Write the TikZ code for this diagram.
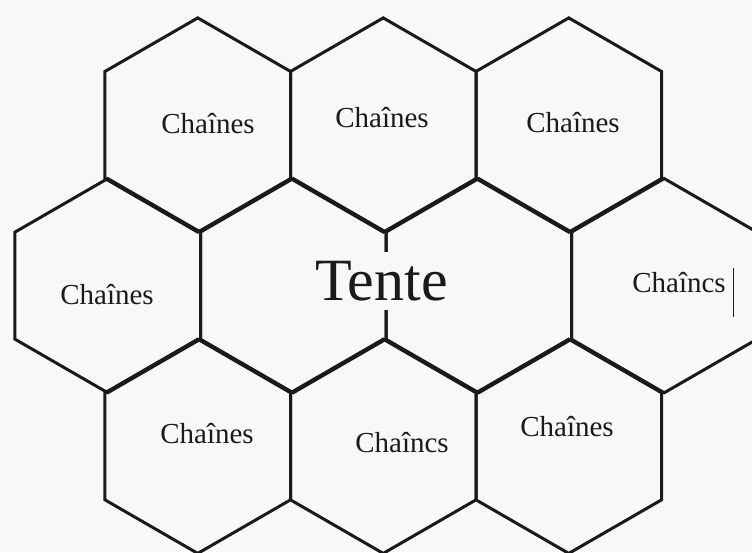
\documentclass[tikz,border=0pt]{standalone}
\usepackage{fontspec}
\setmainfont{Liberation Serif}
\usetikzlibrary{shapes.geometric}
\definecolor{paper}{HTML}{F8F8F6}
\definecolor{ink}{HTML}{1A1A1A}
\begin{document}
\begin{tikzpicture}[x=1pt,y=-1pt,
  hexcell/.style={draw=ink, line width=3pt, line join=miter, regular polygon, regular polygon sides=6,
    shape border rotate=30, minimum size=214.2pt, inner sep=0pt, outer sep=0pt},
  cell/.style={anchor=base, text=ink, font=\fontsize{29}{32}\selectfont, inner sep=0pt},
  big/.style={anchor=base, text=ink, font=\fontsize{60}{66}\selectfont, fill=paper, inner xsep=6pt, inner ysep=9pt}]
\useasboundingbox (0,0) rectangle (752,552);
\fill[paper] (0,0) rectangle (752,552);
% row 1
\node[hexcell] (h11) at (197.75,125) {};
\node[hexcell] (h12) at (383.25,125) {};
\node[hexcell] (h13) at (568.75,125) {};
% row 2
\node[hexcell] (h21) at (107.75,285.65) {};
\node[hexcell] (h22) at (293.25,285.65) {};
\node[hexcell] (h23) at (478.75,285.65) {};
\node[hexcell] (h24) at (664.25,285.65) {};
% row 3
\node[hexcell] (h31) at (197.75,446.3) {};
\node[hexcell] (h32) at (383.25,446.3) {};
\node[hexcell] (h33) at (568.75,446.3) {};
% labels
\node[cell] (l11) at (208,133) {Chaînes};
\node[cell] (l12) at (382,127) {Chaînes};
\node[cell] (l13) at (573,132) {Chaînes};
\node[cell] (l21) at (107,304) {Chaînes};
\node[big]  (tente) at (381.5,300) {Tente};
\node[cell] (l24) at (679,292) {Chaîncs};
\node[cell] (l31) at (207,443) {Chaînes};
\node[cell] (l32) at (402,452) {Chaîncs};
\node[cell] (l33) at (567,436) {Chaînes};
% stray mark beside the right label
\coordinate (m1) at (733,268);
\coordinate (m2) at (733,317);
\draw[ink, line width=0.9pt] (m1) -- (m2);
\end{tikzpicture}
\end{document}
